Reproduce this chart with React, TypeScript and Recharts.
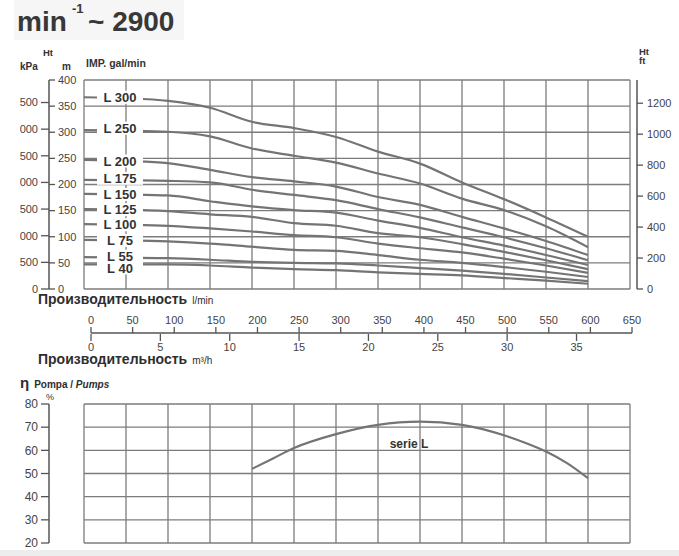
import React from 'react';
import { ComposedChart, Line, Scatter, XAxis, YAxis, CartesianGrid } from 'recharts';

// flow points (l/min) where the head curves were read
const flows = [0, 50, 100, 150, 200, 250, 300, 350, 400, 450, 500, 550, 600];

// head (m) per pump model
const curveNames = ['L 300', 'L 250', 'L 200', 'L 175', 'L 150', 'L 125', 'L 100', 'L 75', 'L 55', 'L 40'];
const L300 = [367, 365, 360, 347, 320, 308, 291, 263, 240, 204, 172, 137, 100];
const L250 = [304, 303, 301, 292, 269, 255, 242, 221, 202, 173, 151, 120, 80];
const L200 = [247, 245, 241, 228, 214, 206, 196, 176, 161, 138, 116, 92, 65];
const L175 = [209, 208, 207, 204, 190, 180, 170, 153, 137, 118, 99, 78, 55];
const L150 = [182, 181, 179, 168, 158, 151, 146, 131, 117, 99, 83, 65, 46];
const L125 = [153, 152, 149, 143, 138, 126, 121, 107, 99, 86, 71, 55, 38];
const L100 = [124, 123, 121, 116, 110, 103, 99, 87, 78, 70, 58, 45, 31];
const L75 = [94, 93, 91, 87, 81, 75, 73, 65, 56, 50, 42, 33, 23];
const L55 = [61, 60, 59, 56, 52, 50, 49, 45, 40, 35, 29, 22, 15];
const L40 = [47, 47, 47, 45, 41, 38, 36, 32, 29, 26, 21, 16, 10];
const headCurves = [L300, L250, L200, L175, L150, L125, L100, L75, L55, L40];

// efficiency of the pump, serie L
const effFlows = [200, 225, 250, 300, 350, 400, 450, 500, 525, 550, 575, 600];
const effValues = [52, 56.5, 61, 67, 71, 72.4, 71, 66.5, 63.3, 59.5, 54.5, 48];

// axis ticks
const flowTicks = [0, 50, 100, 150, 200, 250, 300, 350, 400, 450, 500, 550, 600, 650];
const headTicks = [0, 50, 100, 150, 200, 250, 300, 350, 400];
const kpaTicks = [0, 500, 1000, 1500, 2000, 2500, 3000, 3500];
const ftTicks = [0, 200, 400, 600, 800, 1000, 1200];
const m3hTicks = [0, 5, 10, 15, 20, 25, 30, 35];
const effTicks = [20, 30, 40, 50, 60, 70, 80];

const headRows = flows.map((q, i) => {
  const row: Record<string, number> = { q };
  curveNames.forEach((name, j) => {
    row[name] = headCurves[j][i];
  });
  return row;
});
const tagPoints = curveNames.map((name, j) => ({ q: flows[1], h: headCurves[j][1], name }));
const effRows = effFlows.map((q, i) => ({ q, eff: effValues[i] }));
const rulerRows = flowTicks.map((q) => ({ q }));
const m3hRows = m3hTicks.map((m) => ({ m }));

// small vertical nudges so stacked tags do not collide
const tagNudge: Record<string, number> = { 'L 300': -1, 'L 250': -2.5, 'L 175': -2, 'L 55': -1.5, 'L 40': 3.5 };

const FONT = '"Liberation Sans", Arial, sans-serif';
const GRID = '#7c7c7c';
const AXIS = '#555';
const CURVE = '#747474';
const TICK = { fontSize: 11, fill: '#444', fontFamily: FONT };

function NoTick() {
  return <g />;
}

function TagBox(props: any) {
  const { cx, cy, payload } = props;
  const y = cy + (tagNudge[payload.name] || 0);
  return <rect x={cx - 29} y={y - 6.5} width={46} height={13} fill="#fff" />;
}

function TagText(props: any) {
  const { cx, cy, payload } = props;
  const y = cy + (tagNudge[payload.name] || 0);
  return (
    <text x={cx - 6} y={y} dy="0.36em" textAnchor="middle" fontSize={13} fontWeight="bold" fill="#333" fontFamily={FONT}>
      {payload.name}
    </text>
  );
}

// metre ticks sit right of the shared axis line
function MetreTick(props: any) {
  const { y, payload, lineX } = props;
  return (
    <g>
      <line x1={lineX} x2={lineX + 6} y1={y} y2={y} stroke={AXIS} strokeWidth={1.3} />
      <text x={lineX + 9} y={y} dy="0.35em" textAnchor="start" {...TICK}>
        {payload.value}
      </text>
    </g>
  );
}

export default function App() {
  return (
    <div
      style={{
        position: 'absolute',
        left: 0,
        top: 0,
        width: 679,
        height: 556,
        background: '#fff',
        overflow: 'hidden',
        fontFamily: FONT,
      }}
    >
      <svg width={679} height={556} style={{ position: 'absolute', left: 0, top: 0 }}>
        <rect x={14} y={0} width={170} height={40} fill="#f6f6f6" />
        <rect x={0} y={550} width={679} height={6} fill="#ededed" />
      </svg>

      {/* head curves; the kPa labels run off the left edge as in the scan */}
      <div style={{ position: 'absolute', left: 20, top: 0, width: 659, height: 300, overflow: 'hidden' }}>
        <ComposedChart width={659} height={300} data={headRows} margin={{ top: 80, right: 7, bottom: 11, left: 0 }}>
          <CartesianGrid yAxisId="a_m" stroke={GRID} strokeWidth={1.3} />
          <XAxis
            dataKey="q"
            type="number"
            domain={[0, 650]}
            ticks={flowTicks}
            interval={0}
            height={0}
            tick={<NoTick />}
            tickLine={false}
            axisLine={false}
          />
          {/* outer left: kPa, inner left: metres */}
          <YAxis
            yAxisId="b_kpa"
            type="number"
            domain={[0, 3922.66]}
            ticks={kpaTicks}
            interval={0}
            width={29}
            tickSize={8}
            tickMargin={3}
            axisLine={{ stroke: AXIS, strokeWidth: 1.5 }}
            tickLine={{ stroke: AXIS, strokeWidth: 1.3 }}
            tick={TICK}
          />
          <YAxis
            yAxisId="a_m"
            type="number"
            domain={[0, 400]}
            ticks={headTicks}
            interval={0}
            width={35}
            axisLine={false}
            tickLine={false}
            tick={<MetreTick lineX={29} />}
          />
          {/* outer right: feet, inner right: small gap */}
          <YAxis
            yAxisId="b_ft"
            orientation="right"
            type="number"
            domain={[0, 1350]}
            ticks={ftTicks}
            interval={0}
            width={35}
            tickSize={6}
            tickMargin={4}
            axisLine={{ stroke: AXIS, strokeWidth: 1.5 }}
            tickLine={{ stroke: AXIS, strokeWidth: 1.3 }}
            tick={TICK}
          />
          <YAxis yAxisId="a_gap" orientation="right" type="number" domain={[0, 1]} width={7} tick={false} tickLine={false} axisLine={false} />
          {/* invisible series so the pressure and feet scales get drawn */}
          <Line yAxisId="b_kpa" dataKey="L 300" stroke="none" dot={false} activeDot={false} isAnimationActive={false} />
          <Line yAxisId="b_ft" dataKey="L 300" stroke="none" dot={false} activeDot={false} isAnimationActive={false} />
          {curveNames.map((name) => (
            <Line
              key={name}
              yAxisId="a_m"
              dataKey={name}
              type="monotone"
              stroke={CURVE}
              strokeWidth={2.2}
              dot={false}
              activeDot={false}
              isAnimationActive={false}
            />
          ))}
          <Scatter yAxisId="a_m" data={tagPoints} dataKey="h" shape={TagBox} isAnimationActive={false} />
          <Scatter yAxisId="a_m" data={tagPoints} dataKey="h" shape={TagText} isAnimationActive={false} />
        </ComposedChart>
      </div>

      {/* flow ruler: l/min above, m3/h below */}
      <div style={{ position: 'absolute', left: 0, top: 300, width: 679, height: 62 }}>
        <ComposedChart width={679} height={62} data={rulerRows} margin={{ top: 8, right: 47, bottom: 8, left: 91 }}>
          <XAxis
            xAxisId="lmin"
            dataKey="q"
            orientation="top"
            type="number"
            domain={[0, 650]}
            ticks={flowTicks}
            interval={0}
            height={25}
            tickSize={6}
            tickMargin={3}
            axisLine={{ stroke: AXIS, strokeWidth: 1.5 }}
            tickLine={{ stroke: AXIS, strokeWidth: 1.3 }}
            tick={TICK}
          />
          <XAxis
            xAxisId="m3h"
            dataKey="m"
            orientation="bottom"
            type="number"
            domain={[0, 39]}
            ticks={m3hTicks}
            interval={0}
            height={20}
            tickSize={7}
            tickMargin={2}
            axisLine={false}
            tickLine={{ stroke: AXIS, strokeWidth: 1.3 }}
            tick={TICK}
          />
          <YAxis hide type="number" domain={[0, 'auto']} />
          <Line xAxisId="lmin" dataKey="q" stroke="none" dot={false} activeDot={false} isAnimationActive={false} />
          <Line xAxisId="m3h" data={m3hRows} dataKey="m" stroke="none" dot={false} activeDot={false} isAnimationActive={false} />
        </ComposedChart>
      </div>

      {/* efficiency */}
      <div style={{ position: 'absolute', left: 0, top: 380, width: 679, height: 176 }}>
        <ComposedChart width={679} height={176} data={effRows} margin={{ top: 24, right: 49, bottom: 13, left: 9 }}>
          <CartesianGrid yAxisId="b_eff" stroke={GRID} strokeWidth={1.3} />
          <XAxis
            dataKey="q"
            type="number"
            domain={[0, 650]}
            ticks={flowTicks}
            interval={0}
            height={0}
            tick={<NoTick />}
            tickLine={false}
            axisLine={false}
          />
          <YAxis
            yAxisId="b_eff"
            type="number"
            domain={[20, 80]}
            ticks={effTicks}
            interval={0}
            width={40}
            tickSize={8}
            tickMargin={3}
            axisLine={{ stroke: AXIS, strokeWidth: 1.5 }}
            tickLine={{ stroke: AXIS, strokeWidth: 1.3 }}
            tick={{ ...TICK, fontSize: 12 }}
          />
          <YAxis yAxisId="a_pad" type="number" domain={[0, 1]} width={35} tick={false} tickLine={false} axisLine={false} />
          <Line
            yAxisId="b_eff"
            dataKey="eff"
            type="monotone"
            stroke={CURVE}
            strokeWidth={2.2}
            dot={false}
            activeDot={false}
            isAnimationActive={false}
          />
        </ComposedChart>
      </div>

      <svg width={679} height={556} style={{ position: 'absolute', left: 0, top: 0, pointerEvents: 'none' }} fontFamily={FONT}>
        <text x={17} y={31} fontSize={28} fontWeight="bold" fill="#383838">min</text>
        <text x={72} y={13} fontSize={13} fontWeight="bold" fill="#383838">-1</text>
        <text x={88} y={31} fontSize={28} fontWeight="bold" fill="#383838">~ 2900</text>

        <text x={43} y={56} fontSize={9.5} fontWeight="bold" fill="#333">Ht</text>
        <text x={20} y={70} fontSize={10} fontWeight="bold" fill="#333">kPa</text>
        <text x={62} y={70} fontSize={10} fontWeight="bold" fill="#333">m</text>
        <text x={86} y={67} fontSize={10.5} fontWeight="bold" fill="#333">IMP. gal/min</text>
        <text x={639} y={55} fontSize={9.5} fontWeight="bold" fill="#333">Ht</text>
        <text x={639} y={64} fontSize={9.5} fontWeight="bold" fill="#333">ft</text>

        <text x={38} y={304} fill="#2e2e2e">
          <tspan fontSize={14} fontWeight="bold">Производительность</tspan>
          <tspan dx={5} fontSize={10}>l/min</tspan>
        </text>
        <text x={38} y={364} fill="#2e2e2e">
          <tspan fontSize={14} fontWeight="bold">Производительность</tspan>
          <tspan dx={5} fontSize={10}>m³/h</tspan>
        </text>

        <text x={20} y={388} fill="#2e2e2e">
          <tspan fontSize={15} fontWeight="bold">η</tspan>
          <tspan dx={5} fontSize={10} fontWeight="bold">Pompa / </tspan>
          <tspan fontSize={10} fontWeight="bold" fontStyle="italic">Pumps</tspan>
        </text>
        <text x={46} y={400} fontSize={9} fill="#333">%</text>

        <text x={409} y={448} fontSize={12} fontWeight="bold" fill="#333" textAnchor="middle">serie L</text>
      </svg>
    </div>
  );
}
